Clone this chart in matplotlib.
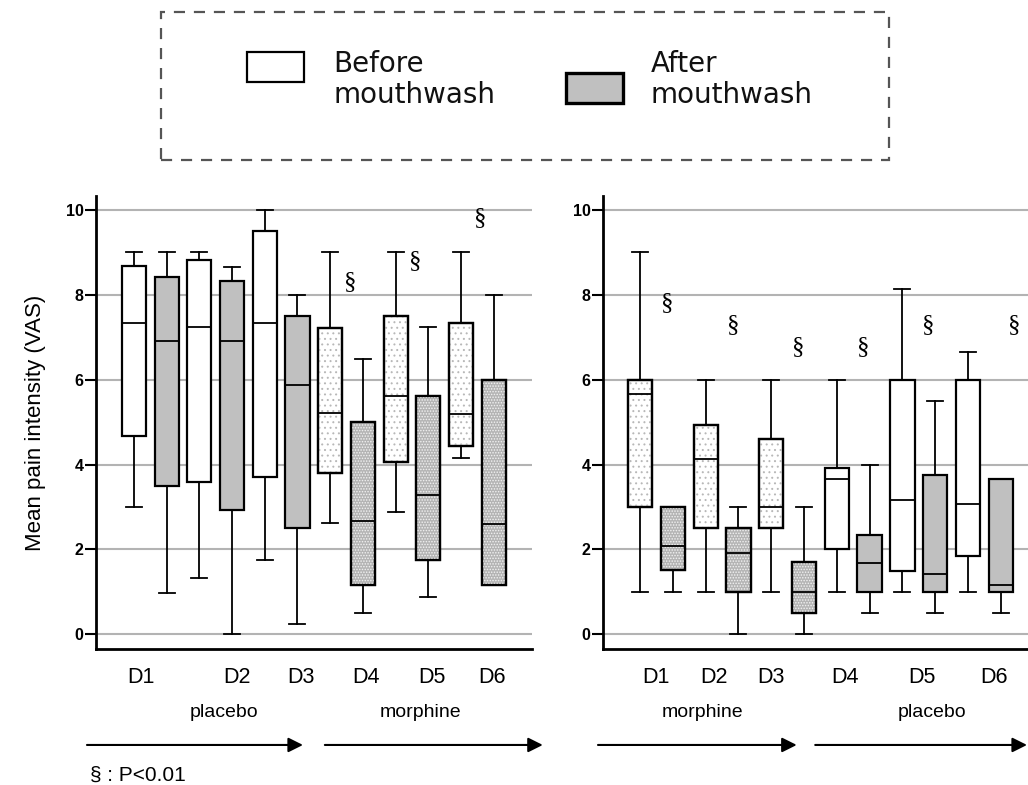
import matplotlib.pyplot as plt
from matplotlib.patches import Rectangle, PathPatch

# five-number summaries (per box, D1 before/after ... D6 before/after)
left_whislo = [3.0, 0.98, 1.32, 0.0, 1.75, 0.24, 2.63, 0.5, 2.88, 0.87, 4.16, 1.16]
left_q1 = [4.67, 3.5, 3.58, 2.92, 3.71, 2.51, 3.8, 1.16, 4.05, 1.75, 4.44, 1.16]
left_med = [7.33, 6.91, 7.25, 6.91, 7.33, 5.88, 5.22, 2.67, 5.61, 3.29, 5.2, 2.59]
left_q3 = [8.67, 8.41, 8.83, 8.33, 9.5, 7.5, 7.22, 5.01, 7.5, 5.61, 7.33, 5.99]
left_whishi = [9.0, 9.0, 9.0, 8.66, 10.0, 8.0, 9.0, 6.48, 9.0, 7.24, 9.0, 8.0]
left_styles = ["white", "gray", "white", "gray", "white", "gray",
               "light", "dark", "light", "dark", "light", "dark"]

right_whislo = [1.0, 1.0, 1.0, 0.0, 1.0, 0.0, 1.0, 0.5, 1.0, 0.5, 1.0, 0.5]
right_q1 = [3.0, 1.51, 2.51, 1.0, 2.5, 0.51, 2.0, 1.0, 1.5, 1.0, 1.84, 1.0]
right_med = [5.66, 2.08, 4.12, 1.92, 3.0, 1.0, 3.66, 1.68, 3.16, 1.41, 3.08, 1.16]
right_q3 = [6.0, 3.0, 4.92, 2.5, 4.61, 1.71, 3.91, 2.34, 6.0, 3.75, 6.0, 3.66]
right_whishi = [9.0, 3.0, 6.0, 3.0, 6.0, 3.0, 6.0, 4.0, 8.13, 5.5, 6.65, 3.66]
right_styles = ["light", "dark", "light", "dark", "light", "dark",
                "white", "gray", "white", "gray", "white", "gray"]

day_labels = ["D1", "D2", "D3", "D4", "D5", "D6"]
left_day_pos = [1.2, 4.15, 6.1, 8.1, 10.1, 11.95]
right_day_pos = [1.47, 3.26, 5.0, 7.25, 9.6, 11.78]

left_groups = ["placebo", "morphine"]
left_group_pos = [3.75, 9.75]
right_groups = ["morphine", "placebo"]
right_group_pos = [2.89, 9.9]

# significance marks (x position, y value)
left_sig_x = [7.6, 9.6, 11.6]
left_sig_y = [8.3, 8.8, 9.8]
right_sig_x = [1.82, 3.84, 5.82, 7.8, 9.78, 12.4]
right_sig_y = [7.8, 7.29, 6.77, 6.77, 7.29, 7.29]

GRAY = "#c0c0c0"
NARROW = ["Liberation Sans Narrow", "Liberation Sans", "DejaVu Sans"]
SANS = ["Liberation Sans", "DejaVu Sans"]

plt.rcParams["hatch.linewidth"] = 0.7

fill = {"white": "white", "gray": GRAY, "light": "white", "dark": "#b4b4b4"}
hatch = {"light": ("...", "#b8b8b8"), "dark": ("......", "#f2f2f2")}


def draw_panel(ax, whislo, q1, med, q3, whishi, styles, xlim):
    stats = []
    for lo, a, m, b, hi in zip(whislo, q1, med, q3, whishi):
        stats.append({"whislo": lo, "q1": a, "med": m, "q3": b, "whishi": hi, "fliers": []})
    pos = list(range(1, len(stats) + 1))
    res = ax.bxp(
        stats,
        positions=pos,
        widths=0.74,
        capwidths=0.49,
        patch_artist=True,
        showfliers=False,
        boxprops=dict(edgecolor="black", linewidth=1.6),
        whiskerprops=dict(color="black", linewidth=1.3),
        capprops=dict(color="black", linewidth=1.3),
        medianprops=dict(color="black", linewidth=1.3),
    )
    for box, st in zip(res["boxes"], styles):
        box.set_facecolor(fill[st])
        if st in hatch:
            h, hc = hatch[st]
            ax.add_patch(PathPatch(box.get_path(), facecolor="none", edgecolor=hc,
                                   hatch=h, linewidth=0, zorder=2.05))
            # outline again on top of the dots
            ax.add_patch(PathPatch(box.get_path(), facecolor="none", edgecolor="black",
                                   linewidth=1.6, zorder=2.06))

    ax.set_xlim(*xlim)
    ax.set_ylim(-0.35, 10.33)
    ax.set_yticks([0, 2, 4, 6, 8, 10])
    ax.set_yticklabels(["0", "2", "4", "6", "8", "10"], fontfamily=SANS,
                       fontweight="bold", fontsize=11.5)
    ax.yaxis.grid(True, color="#b3b3b3", linewidth=1.5)
    ax.set_axisbelow(True)
    for side in ["top", "right"]:
        ax.spines[side].set_visible(False)
    for side in ["left", "bottom"]:
        ax.spines[side].set_linewidth(2)
    ax.tick_params(axis="y", direction="out", length=8, width=1.5, pad=1)
    ax.tick_params(axis="x", length=0, pad=13)


fig = plt.figure(figsize=(10.28, 7.85), dpi=100)
ax1 = fig.add_axes([0.0934, 0.1732, 0.4241, 0.5771])
ax2 = fig.add_axes([0.5866, 0.1732, 0.4134, 0.5771])

draw_panel(ax1, left_whislo, left_q1, left_med, left_q3, left_whishi, left_styles, (-0.16, 13.17))
draw_panel(ax2, right_whislo, right_q1, right_med, right_q3, right_whishi, right_styles, (-0.13, 12.83))

ax1.set_xticks(left_day_pos, day_labels, fontfamily=NARROW, fontsize=15.5)
ax2.set_xticks(right_day_pos, day_labels, fontfamily=NARROW, fontsize=15.5)

for ax, names, gpos in [(ax1, left_groups, left_group_pos), (ax2, right_groups, right_group_pos)]:
    for name, p in zip(names, gpos):
        ax.text(p, -0.141, name, transform=ax.get_xaxis_transform(), ha="center",
                va="center", fontsize=14, fontfamily=NARROW)

for ax, xs, ys in [(ax1, left_sig_x, left_sig_y), (ax2, right_sig_x, right_sig_y)]:
    for x, y in zip(xs, ys):
        ax.text(x, y, "§", ha="center", va="center", fontsize=18,
                fontfamily=["Liberation Serif", "DejaVu Serif"])

ax1.set_ylabel("Mean pain intensity (VAS)", fontsize=16, fontfamily=SANS, labelpad=14)

# phase arrows under the axes
arrow_y = 0.051
for x0, x1 in [(0.0846, 0.2947), (0.316, 0.528), (0.5817, 0.775), (0.793, 0.999)]:
    fig.add_artist(plt.Annotation("", xy=(x1, arrow_y), xytext=(x0, arrow_y),
                                  xycoords="figure fraction",
                                  arrowprops=dict(arrowstyle="-|>", color="black",
                                                  lw=1.5, mutation_scale=22,
                                                  shrinkA=0, shrinkB=0)))

fig.text(0.0875, 0.0127, "§ : P<0.01", fontsize=15, fontfamily=SANS, va="center", ha="left")

# legend block at the top
fig.add_artist(Rectangle((0.1566, 0.796), 0.7082, 0.1885, transform=fig.transFigure,
                         facecolor="none", edgecolor="#555555", linewidth=1.6,
                         linestyle=(0, (5, 4))))
fig.add_artist(Rectangle((0.2403, 0.8955), 0.0555, 0.0382, transform=fig.transFigure,
                         facecolor="white", edgecolor="black", linewidth=1.6))
fig.add_artist(Rectangle((0.5506, 0.8688), 0.0555, 0.0382, transform=fig.transFigure,
                         facecolor=GRAY, edgecolor="black", linewidth=2.4))
fig.text(0.324, 0.899, "Before\nmouthwash", fontsize=20, va="center", ha="left",
         linespacing=1.15, color="#111111")
fig.text(0.633, 0.899, "After\nmouthwash", fontsize=20, va="center", ha="left",
         linespacing=1.15, color="#111111")

fig.savefig("out.png", dpi=100)
